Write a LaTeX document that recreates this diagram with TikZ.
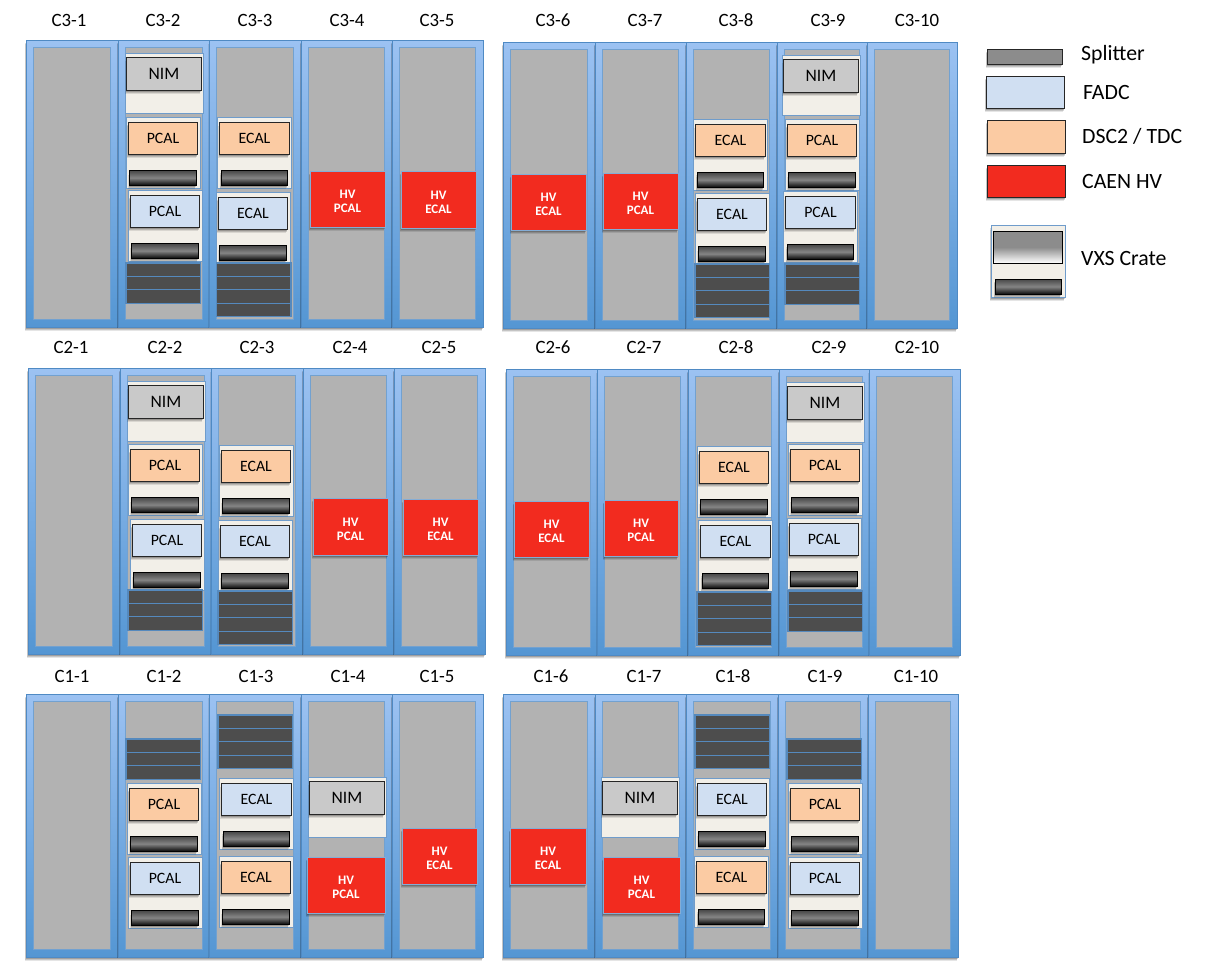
\documentclass[tikz,border=0pt]{standalone}
\usepackage{fontspec}
\setmainfont{Carlito}
\definecolor{rackgray}{HTML}{B2B2B2}
\definecolor{racktop}{HTML}{9CC2F2}
\definecolor{rackbot}{HTML}{5496D3}
\definecolor{rackline}{HTML}{4F8AC4}
\definecolor{panelfill}{HTML}{F2EFE8}
\definecolor{panelline}{HTML}{6F9CCB}
\definecolor{fadc}{HTML}{D0DFF2}
\definecolor{dsc}{HTML}{FBCBA3}
\definecolor{hvred}{HTML}{F22B1F}
\definecolor{stackdark}{HTML}{4D4D4D}
\definecolor{stackline}{HTML}{5589BD}
\definecolor{nimgray}{HTML}{C9C9C9}
\tikzset{
  softshadow/.style={
    preaction={draw=none,fill=black,fill opacity=0.10,transform canvas={xshift=-1.5pt,yshift=-4pt}},
    preaction={draw=none,fill=black,fill opacity=0.14,transform canvas={xshift=-1pt,yshift=-2.8pt}},
    preaction={draw=none,fill=black,fill opacity=0.18,transform canvas={xshift=-0.5pt,yshift=-1.5pt}}},
  rackbody/.style={softshadow,top color=racktop,bottom color=rackbot,draw=rackline,line width=0.8pt},
  rackinner/.style={fill=rackgray,draw=rackline!80,line width=1pt},
  panelbox/.style={fill=panelfill,draw=panelline,line width=1pt},
  modbox/.style={softshadow,draw=black!85,line width=0.9pt},
  splitbox/.style={softshadow,draw=black,line width=0.9pt,top color=black!72,bottom color=black!95,middle color=black!48},
  hvbox/.style={softshadow,fill=hvred,draw=rackline!70,line width=0.5pt},
  darkrow/.style={fill=stackdark,draw=stackline,line width=1.1pt},
  racklabel/.style={font=\fontsize{18.8}{18.8}\selectfont,text=black,inner sep=0pt},
  modlabel/.style={font=\fontsize{15.8}{15.8}\selectfont,text=black,inner sep=0pt},
  nimlabel/.style={font=\fontsize{17.5}{17.5}\selectfont,text=black,inner sep=0pt},
  hvlabel/.style={font=\bfseries\fontsize{13}{14}\selectfont,text=white,align=center,inner sep=0pt},
  legendlabel/.style={font=\fontsize{21.8}{21.8}\selectfont,text=black,inner sep=0pt,anchor=west},
}
\newcommand{\rackunit}[4]{%
  \path[rackbody] (#1,#3) rectangle (#2,#4);
  \path[rackinner] ({#1+7},{#3+7}) rectangle ({#2-7.5},{#4-7.5});
}
\newcommand{\rackgroup}[7]{%
  \rackunit{#1}{#2}{#6}{#7}\rackunit{#2}{#3}{#6}{#7}\rackunit{#3}{#4}{#6}{#7}%
  \pgfmathsetmacro{\rgw}{#5+(#5-#4)}\rackunit{#4}{#5}{#6}{#7}\rackunit{#5}{\rgw}{#6}{#7}%
}
\newcommand{\crate}[4]{%
  \path[panelbox] (#1,#2) rectangle ({#1+74},{#2+71});
  \path[modbox,fill=#3] ({#1+2},{#2+5}) rectangle ({#1+71.5},{#2+37});
  \path[splitbox] ({#1+3.5},{#2+53.5}) rectangle ({#1+70},{#2+68});
  \node[modlabel] at ({#1+37},{#2+21.5}) {#4};
}
\newcommand{\nimcrate}[2]{%
  \path[panelbox] (#1,#2) rectangle ({#1+78},{#2+60});
  \path[modbox,fill=nimgray] ({#1+1.5},{#2+4}) rectangle ({#1+76},{#2+37});
  \node[nimlabel] at ({#1+39},{#2+21}) {NIM};
}
\newcommand{\darkstack}[3]{%
  \foreach \r in {1,...,#3} {
    \path[darkrow] (#1,{#2+(\r-1)*13.4}) rectangle ({#1+74.5},{#2+\r*13.4});
  }
}
\newcommand{\hv}[5]{%
  \path[hvbox] (#1,#2) rectangle (#3,#4);
  \node[hvlabel] at ({(#1+#3)/2},{(#2+#4)/2+2.5}) {HV\\#5};
}
\begin{document}
\begin{tikzpicture}[x=1pt,y=-1pt]
\useasboundingbox (0,0) rectangle (1207,969);
\fill[white] (0,0) rectangle (1207,969);
\rackgroup{26}{118}{209.5}{301}{392}{40}{327}
\rackgroup{503}{595}{686}{777}{867}{42}{328}
\rackgroup{28}{120}{211.5}{303}{394}{368}{654}
\rackgroup{506}{597.5}{688}{779}{869.5}{369}{655}
\rackgroup{26}{118}{209.5}{301}{392}{694}{957}
\rackgroup{503}{595}{686}{778}{868}{694}{957}
\foreach \t/\x in {C3-1/69,C3-2/163,C3-3/255,C3-4/347,C3-5/437,C3-6/553,C3-7/645,C3-8/736,C3-9/828,C3-10/917}
  \node[racklabel] (l\t) at (\x,20) {\t};
\foreach \t/\x in {C2-1/71,C2-2/165,C2-3/257,C2-4/350,C2-5/439,C2-6/553,C2-7/644,C2-8/736,C2-9/829,C2-10/917}
  \node[racklabel] (l\t) at (\x,347) {\t};
\foreach \t/\x in {C1-1/72,C1-2/164,C1-3/256,C1-4/348,C1-5/437,C1-6/551,C1-7/644,C1-8/733,C1-9/825,C1-10/916}
  \node[racklabel] (l\t) at (\x,676) {\t};
\nimcrate{125}{53}
\crate{126}{117}{dsc}{PCAL}
\crate{128}{190}{fadc}{PCAL}
\darkstack{126}{263}{3}
\crate{217.5}{117}{dsc}{ECAL}
\crate{216}{192}{fadc}{ECAL}
\darkstack{216.5}{263}{4}
\hv{310}{171}{385}{227}{PCAL}
\hv{401}{171}{476}{228}{ECAL}
\hv{511}{174}{586}{230}{ECAL}
\hv{603}{173}{678}{229}{PCAL}
\crate{693.5}{119}{dsc}{ECAL}
\crate{695}{193}{fadc}{ECAL}
\darkstack{695}{264}{4}
\nimcrate{782}{55}
\crate{785}{119}{dsc}{PCAL}
\crate{783.5}{191}{fadc}{PCAL}
\darkstack{785}{264}{3}
\nimcrate{127}{381}
\crate{128}{444}{dsc}{PCAL}
\crate{130}{519}{fadc}{PCAL}
\darkstack{128}{590}{3}
\crate{219}{445}{dsc}{ECAL}
\crate{218}{520}{fadc}{ECAL}
\darkstack{218}{591}{4}
\hv{313}{498}{388}{555}{PCAL}
\hv{403}{499}{478}{555}{ECAL}
\hv{514}{501}{589}{557}{ECAL}
\hv{604}{500}{678}{556}{PCAL}
\crate{697}{446}{dsc}{ECAL}
\crate{698.5}{520}{fadc}{ECAL}
\darkstack{697}{592}{4}
\nimcrate{786}{382}
\crate{788}{444}{dsc}{PCAL}
\crate{787}{518}{fadc}{PCAL}
\darkstack{788}{591}{3}
\darkstack{126}{739}{3}
\crate{127}{783}{dsc}{PCAL}
\crate{128}{857}{fadc}{PCAL}
\darkstack{218}{715}{4}
\crate{219.5}{778}{fadc}{ECAL}
\crate{219}{856}{dsc}{ECAL}
\nimcrate{308}{777}
\hv{307}{857}{385}{913}{PCAL}
\hv{402}{828}{477}{884}{ECAL}
\hv{510}{828}{586}{884}{ECAL}
\nimcrate{601}{777}
\hv{603}{857}{680}{913}{PCAL}
\darkstack{695}{715}{4}
\crate{695}{778}{fadc}{ECAL}
\crate{694.5}{856}{dsc}{ECAL}
\darkstack{787}{739}{3}
\crate{788}{783}{dsc}{PCAL}
\crate{788}{857}{fadc}{PCAL}
\path[modbox,fill=black!45] (987,49) rectangle (1062,64);
\path[modbox,fill=fadc] (986,76) rectangle (1064.5,108);
\path[modbox,fill=dsc] (987,120) rectangle (1065.5,153);
\path[modbox,fill=hvred] (987,165) rectangle (1065.5,197);
\path[panelbox,softshadow] (991,225.5) rectangle (1065,297);
\path[draw=black,line width=0.9pt,top color=black!45,bottom color=white,middle color=black!45] (993.5,231.5) rectangle (1062.5,263);
\path[splitbox] (995,279) rectangle (1061,294);
\node[legendlabel] (lsplit) at (1081,54.5) {Splitter};
\node[legendlabel] (lfadc) at (1083,93) {FADC};
\node[legendlabel] (ldsc) at (1082,136) {DSC2 / TDC};
\node[legendlabel] (lhv) at (1082,181) {CAEN HV};
\node[legendlabel] (lvxs) at (1081,259) {VXS Crate};
\end{tikzpicture}
\end{document}
